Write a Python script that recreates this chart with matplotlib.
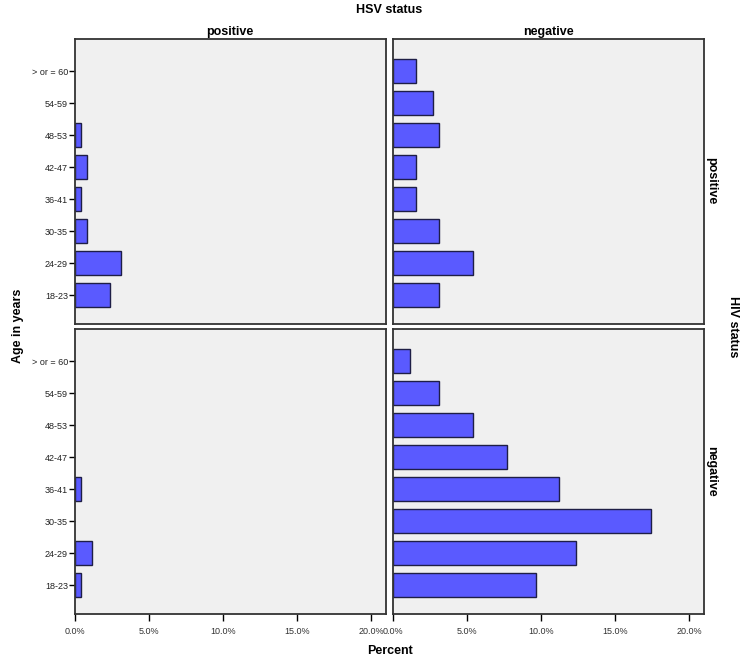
import numpy as np
import matplotlib.pyplot as plt

plt.rcParams['font.family'] = ['Liberation Sans', 'DejaVu Sans']

ages = ['18-23', '24-29', '30-35', '36-41', '42-47', '48-53', '54-59', '> or = 60']

# percent of all cases, HIV status (rows) x HSV status (columns)
hiv_pos_hsv_pos = [2.33, 3.10, 0.78, 0.39, 0.78, 0.39, 0.0, 0.0]
hiv_pos_hsv_neg = [3.10, 5.43, 3.10, 1.55, 1.55, 3.10, 2.71, 1.55]
hiv_neg_hsv_pos = [0.39, 1.16, 0.0, 0.39, 0.0, 0.0, 0.0, 0.0]
hiv_neg_hsv_neg = [9.69, 12.40, 17.44, 11.24, 7.75, 5.43, 3.10, 1.16]

xticks = [0, 5, 10, 15, 20]
xticklabels = ['0.0%', '5.0%', '10.0%', '15.0%', '20.0%']

fig = plt.figure(figsize=(7.49, 6.59), dpi=100)

W, H = 749, 659
lefts = [75, 392.7]
tops = [39.3, 329.3]
pw, ph = 311, 284.7

panels = [[hiv_pos_hsv_pos, hiv_pos_hsv_neg],
          [hiv_neg_hsv_pos, hiv_neg_hsv_neg]]

y = np.arange(len(ages))
for r in range(2):
    for c in range(2):
        vals = np.array(panels[r][c])
        ax = fig.add_axes([lefts[c] / W, 1 - (tops[r] + ph) / H, pw / W, ph / H])
        ax.set_facecolor('#f0f0f0')
        # no outline for empty categories
        lw = np.where(vals > 0, 1.0, 0.0)
        ax.barh(y, vals, height=0.75, color='#5a5aff',
                edgecolor='#1e1e46', linewidth=lw)
        ax.set_xlim(0, 21)
        ax.set_ylim(-0.9, 8.0)
        for s in ax.spines.values():
            s.set_color('#333333')
            s.set_linewidth(1.3)
        if c == 0:
            ax.set_yticks(y)
            ax.set_yticklabels(ages, fontsize=6.5, color='#222222')
            ax.tick_params(axis='y', length=4, width=1, pad=1)
        else:
            ax.set_yticks([])
        if r == 1:
            ax.set_xticks(xticks)
            ax.set_xticklabels(xticklabels, fontsize=6.5, color='#333333')
            ax.tick_params(axis='x', length=5, width=1, pad=4)
        else:
            ax.set_xticks([])

fig.text(389 / W, 1 - 10 / H, 'HSV status', ha='center', va='center',
         fontsize=9, fontweight='bold')
fig.text(230 / W, 1 - 32 / H, 'positive', ha='center', va='center',
         fontsize=9, fontweight='bold')
fig.text(548 / W, 1 - 32 / H, 'negative', ha='center', va='center',
         fontsize=9, fontweight='bold')
fig.text(711 / W, 1 - 181 / H, 'positive', ha='center', va='center',
         fontsize=9, fontweight='bold', rotation=-90)
fig.text(711 / W, 1 - 471 / H, 'negative', ha='center', va='center',
         fontsize=9, fontweight='bold', rotation=-90)
fig.text(733 / W, 1 - 327 / H, 'HIV status', ha='center', va='center',
         fontsize=9, fontweight='bold', rotation=-90)
fig.text(18 / W, 1 - 326 / H, 'Age in years', ha='center', va='center',
         fontsize=9, fontweight='bold', rotation=90)
fig.text(390 / W, 1 - 651 / H, 'Percent', ha='center', va='center',
         fontsize=9, fontweight='bold')

fig.savefig('out.png', dpi=100)
